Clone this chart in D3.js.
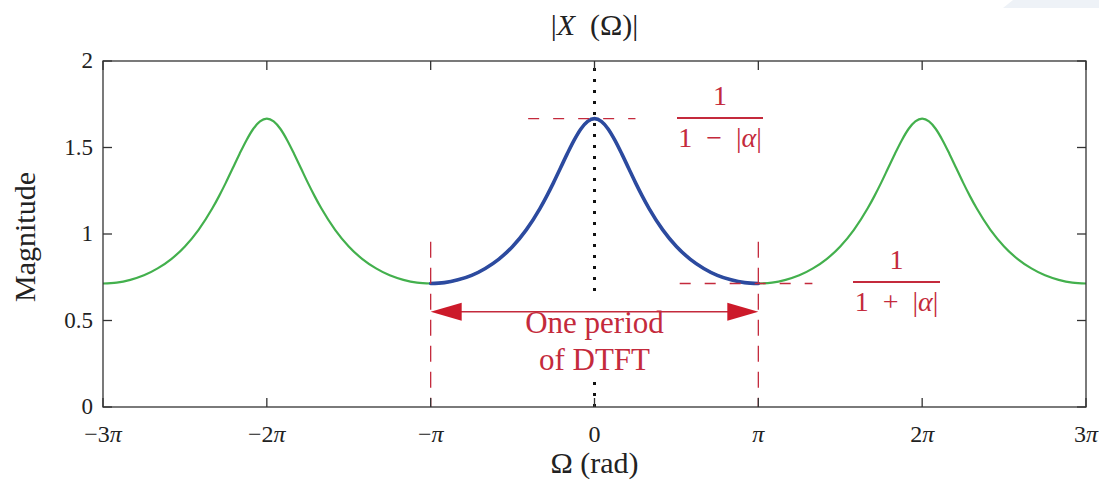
<!DOCTYPE html>
<html>
<head>
<meta charset="utf-8">
<script src="https://cdn.jsdelivr.net/npm/d3@7"></script>
<style>
  html, body { margin: 0; padding: 0; background: #ffffff; }
  svg { display: block; }
  text { font-family: "Liberation Serif", "DejaVu Serif", serif; fill: #222; }
</style>
</head>
<body>
<svg id="chart" width="1099" height="482"></svg>
<script>
// One period of |X(Ω)|, Ω in units of π
const periodOmega = [-1, -11/12, -10/12, -9/12, -8/12, -7/12, -6/12, -5/12, -4/12, -7/24, -3/12, -5/24, -2/12, -3/24, -1/12, -1/24,
  0, 1/24, 1/12, 3/24, 2/12, 5/24, 3/12, 7/24, 4/12, 5/12, 6/12, 7/12, 8/12, 9/12, 10/12, 11/12, 1];
const periodMagnitude = [0.714, 0.719, 0.735, 0.761, 0.801, 0.855, 0.928, 1.024, 1.147, 1.219, 1.297, 1.380, 1.463, 1.541, 1.607, 1.651,
  1.667, 1.651, 1.607, 1.541, 1.463, 1.380, 1.297, 1.219, 1.147, 1.024, 0.928, 0.855, 0.801, 0.761, 0.735, 0.719, 0.714];
// Centres (units of π) of the repeated periods drawn in green
const periodCenters = [-2, 0, 2];

// Axis ticks
const xTicks = [-3, -2, -1, 0, 1, 2, 3];
const xTickLabels = ["\u22123", "\u22122", "\u2212", "0", "", "2", "3"];
const yTicks = [0, 0.5, 1, 1.5, 2];
const yTickLabels = ["0", "0.5", "1", "1.5", "2"];

// Annotation levels
const peakLevel = 1.667;   // 1/(1-|α|)
const troughLevel = 0.714; // 1/(1+|α|)
const arrowLevel = 0.55;

const svg = d3.select("#chart");
const W = 1099, H = 482;
const plot = { left: 103, right: 1086, top: 61, bottom: 407 };

const x = d3.scaleLinear().domain([-3, 3]).range([plot.left, plot.right]);
const y = d3.scaleLinear().domain([0, 2]).range([plot.bottom, plot.top]);

const GREEN = "#43b04d", BLUE = "#2c4a9f", RED = "#c42a3c", AXIS = "#333";

// faint light patch in top-right corner
svg.append("path")
  .attr("d", `M1013,0 L${W},0 L${W},8 L1003,8 Z`)
  .attr("fill", "#eef2f7");

// --- curves
const line = d3.line()
  .x(d => x(d[0])).y(d => y(d[1]))
  .curve(d3.curveMonotoneX);

const onePeriod = periodOmega.map((w, i) => [w, periodMagnitude[i]]);

periodCenters.forEach(c => {
  svg.append("path")
    .datum(onePeriod.map(d => [d[0] + c, d[1]]))
    .attr("d", line)
    .attr("fill", "none")
    .attr("stroke", GREEN)
    .attr("stroke-width", 2.2);
});

// principal period in blue
svg.append("path")
  .datum(onePeriod)
  .attr("d", line)
  .attr("fill", "none")
  .attr("stroke", BLUE)
  .attr("stroke-width", 3.6)
  .attr("stroke-linecap", "round");

// --- black dotted line at Ω = 0 (broken around the label)
[[1.96, 0.647], [0.145, 0.0]].forEach(seg => {
  svg.append("line")
    .attr("x1", x(0)).attr("x2", x(0))
    .attr("y1", y(seg[0])).attr("y2", y(seg[1]))
    .attr("stroke", "#111")
    .attr("stroke-width", 3)
    .attr("stroke-dasharray", "3,8");
});

// --- red dashed reference lines
svg.append("line")
  .attr("x1", x(-0.405)).attr("x2", x(0.25))
  .attr("y1", y(peakLevel)).attr("y2", y(peakLevel))
  .attr("stroke", RED).attr("stroke-width", 1.3)
  .attr("stroke-dasharray", "11,14");

svg.append("line")
  .attr("x1", x(0.52)).attr("x2", x(1.33))
  .attr("y1", y(troughLevel)).attr("y2", y(troughLevel))
  .attr("stroke", RED).attr("stroke-width", 1.3)
  .attr("stroke-dasharray", "11,14");

[-1, 1].forEach(w => {
  svg.append("line")
    .attr("x1", x(w)).attr("x2", x(w))
    .attr("y1", y(0.955)).attr("y2", y(0))
    .attr("stroke", RED).attr("stroke-width", 1.3)
    .attr("stroke-dasharray", "16,10");
});

// --- double-headed arrow spanning one period
const ay = y(arrowLevel);
svg.append("line")
  .attr("x1", x(-1) + 20).attr("x2", x(1) - 20)
  .attr("y1", ay).attr("y2", ay)
  .attr("stroke", RED).attr("stroke-width", 1.5);
const headL = 31, headH = 9;
svg.append("path")
  .attr("d", `M${x(-1)},${ay} L${x(-1) + headL},${ay - headH} L${x(-1) + headL},${ay + headH} Z`)
  .attr("fill", "#cc1a2a");
svg.append("path")
  .attr("d", `M${x(1)},${ay} L${x(1) - headL},${ay - headH} L${x(1) - headL},${ay + headH} Z`)
  .attr("fill", "#cc1a2a");

svg.append("text")
  .attr("x", x(0)).attr("y", 333)
  .attr("text-anchor", "middle")
  .style("font-size", "31px").style("fill", RED)
  .text("One period");
svg.append("text")
  .attr("x", x(0)).attr("y", 370)
  .attr("text-anchor", "middle")
  .style("font-size", "31px").style("fill", RED)
  .text("of DTFT");

// --- fraction labels
function fraction(cx, barY, barW, sign) {
  const g = svg.append("g");
  g.append("text")
    .attr("x", cx).attr("y", barY - 13)
    .attr("text-anchor", "middle")
    .style("font-size", "28px").style("fill", RED)
    .text("1");
  g.append("line")
    .attr("x1", cx - barW / 2).attr("x2", cx + barW / 2)
    .attr("y1", barY).attr("y2", barY)
    .attr("stroke", RED).attr("stroke-width", 2.2);
  const t = g.append("text")
    .attr("x", cx).attr("y", barY + 29)
    .attr("text-anchor", "middle")
    .style("font-size", "28px").style("fill", RED);
  t.append("tspan").text("1\u2002" + sign + "\u2002|");
  t.append("tspan").style("font-style", "italic").text("\u03b1");
  t.append("tspan").text("|");
}
fraction(720, 118, 86, "\u2212");
fraction(896.5, 282, 87, "+");

// --- axes frame
svg.append("rect")
  .attr("x", plot.left).attr("y", plot.top)
  .attr("width", plot.right - plot.left).attr("height", plot.bottom - plot.top)
  .attr("fill", "none").attr("stroke", AXIS).attr("stroke-width", 1.3);

const TICK = 9;
// x ticks (bottom and top, pointing inward)
xTicks.forEach((t, i) => {
  svg.append("line")
    .attr("x1", x(t)).attr("x2", x(t))
    .attr("y1", plot.bottom).attr("y2", plot.bottom - TICK)
    .attr("stroke", AXIS).attr("stroke-width", 1.3);
  svg.append("line")
    .attr("x1", x(t)).attr("x2", x(t))
    .attr("y1", plot.top).attr("y2", plot.top + TICK)
    .attr("stroke", AXIS).attr("stroke-width", 1.3);
  const lbl = svg.append("text")
    .attr("x", x(t)).attr("y", plot.bottom + 35)
    .attr("text-anchor", "middle")
    .style("font-size", "24px");
  if (t === 0) {
    lbl.text("0");
  } else {
    lbl.append("tspan").text(xTickLabels[i]);
    lbl.append("tspan").style("font-style", "italic").text("\u03c0");
  }
});

// y ticks (left and right, pointing inward)
yTicks.forEach((t, i) => {
  svg.append("line")
    .attr("x1", plot.left).attr("x2", plot.left + TICK)
    .attr("y1", y(t)).attr("y2", y(t))
    .attr("stroke", AXIS).attr("stroke-width", 1.3);
  svg.append("line")
    .attr("x1", plot.right).attr("x2", plot.right - TICK)
    .attr("y1", y(t)).attr("y2", y(t))
    .attr("stroke", AXIS).attr("stroke-width", 1.3);
  svg.append("text")
    .attr("x", plot.left - 10).attr("y", y(t) + 7)
    .attr("text-anchor", "end")
    .style("font-size", "23px")
    .text(yTickLabels[i]);
});

// --- axis titles
svg.append("text")
  .attr("transform", `translate(35,237) rotate(-90)`)
  .attr("text-anchor", "middle")
  .style("font-size", "30px")
  .text("Magnitude");

svg.append("text")
  .attr("x", x(0)).attr("y", 473)
  .attr("text-anchor", "middle")
  .style("font-size", "30px")
  .text("\u03a9 (rad)");

const title = svg.append("text")
  .attr("x", x(0)).attr("y", 35)
  .attr("text-anchor", "middle")
  .style("font-size", "30px");
title.append("tspan").text("|");
title.append("tspan").style("font-style", "italic").text("X");
title.append("tspan").text("\u2002(\u03a9)|");
</script>
</body>
</html>
